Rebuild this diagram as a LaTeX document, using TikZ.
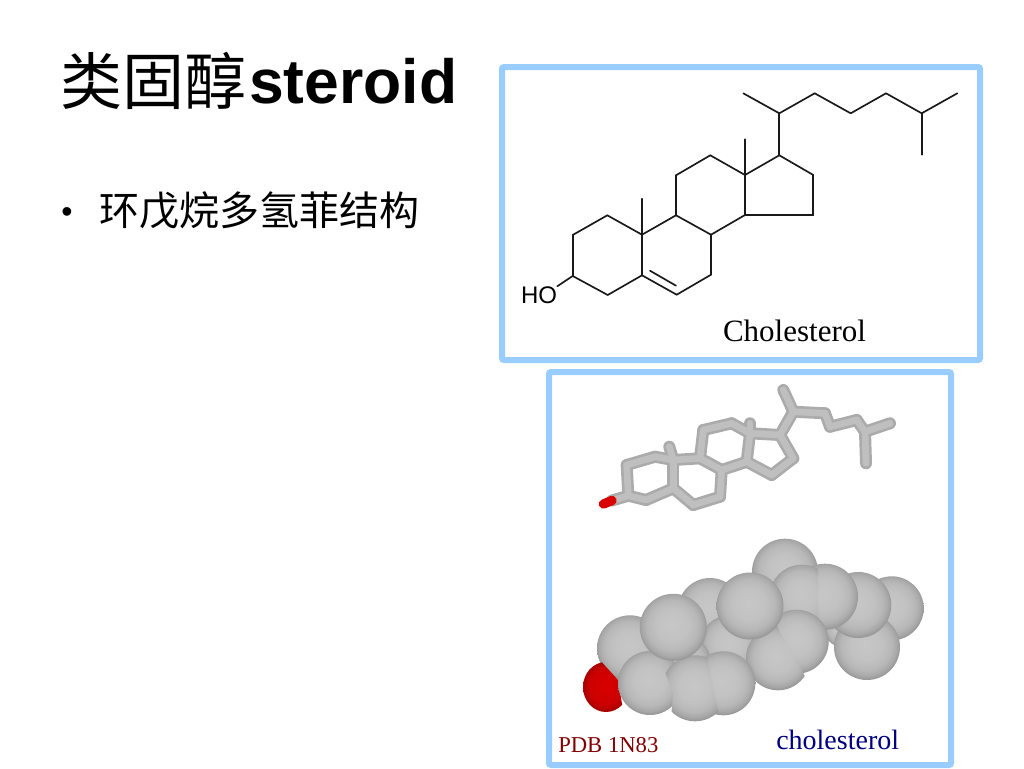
\documentclass[tikz,border=0pt]{standalone}
\usepackage{fontspec}
\setmainfont{Liberation Serif}
\setsansfont{Liberation Sans}
\newfontfamily\cjk{Noto Sans CJK SC}
\usetikzlibrary{positioning}
\definecolor{framecol}{HTML}{99CCFF}
\definecolor{darkred}{HTML}{800000}
\definecolor{darknavy}{HTML}{000080}
\pgfdeclareradialshading{atomgrey}{\pgfpoint{-1bp}{2bp}}{
  rgb(0bp)=(.78,.78,.78); rgb(12bp)=(.76,.76,.76); rgb(19bp)=(.72,.72,.72);
  rgb(23bp)=(.66,.66,.66); rgb(26bp)=(.58,.58,.58); rgb(50bp)=(.58,.58,.58)}
\pgfdeclareradialshading{atomred}{\pgfpoint{-1bp}{1bp}}{
  rgb(0bp)=(.85,0,0); rgb(18bp)=(.80,0,0); rgb(26bp)=(.62,0,0); rgb(50bp)=(.62,0,0)}
\tikzset{
  panel/.style={draw=framecol, line width=4.5pt, rounded corners=1.5pt},
  bond/.style={line width=1.25pt, black!90, line cap=round},
  stickout/.style={line width=9pt, color=black!33, line cap=round, line join=round},
  stickin/.style={line width=5pt, color=black!25, line cap=round, line join=round},
  atomball/.style={shading=atomgrey}
}
\begin{document}
\begin{tikzpicture}[x=0.75pt, y=-0.75pt]
  \useasboundingbox (0, 0) rectangle (1024, 768);
  \node[font=\cjk\fontsize{46.5}{50}\selectfont, anchor=west, inner sep=0] (titlecjk) at (60, 81) {类固醇};
  \node[font=\sffamily\bfseries\fontsize{46.8}{50}\selectfont, anchor=west, inner sep=0] (titlelat) at (249, 81) {steroid};
  \node[font=\sffamily\fontsize{24}{28}\selectfont, inner sep=0] (dot) at (67, 215) {•};
  \node[font=\cjk\fontsize{30}{34}\selectfont, anchor=west, inner sep=0] (bullet) at (99, 210) {环戊烷多氢菲结构};

  \draw[panel] (502, 67) rectangle (980, 360);
  \draw[panel] (549, 372) rectangle (951, 765);

  % skeletal formula
  \foreach \name/\px/\py in {c1/607.3/215.3, c2/572.7/235, c3/572.7/276, c4/607.7/295,
      c5/642/275.3, c6/676.7/294.7, c7/711/274.7, c8/711/234.7, c9/676/215.3,
      c10/642/234.7, c11/676/175.3, c12/710.3/155.3, c13/745/175, c14/745/215,
      c15/813.3/215, c16/813.3/175, c17/779.3/155.3, c18/745/139.3, c19/642/198.7,
      c20/779.3/113.3, c21/743.3/93.3, c22/814.7/93.3, c23/850.7/113.3, c24/886/93.3,
      c25/921.7/113.3, c26/957.3/93.3, c27/921.7/154.7, d5/650/270.7, d6/676/285.7}
    \coordinate (\name) at (\px, \py);
  \node[font=\sffamily\fontsize{18}{20}\selectfont, inner sep=0] (ho) at (539, 295) {HO};
  \foreach \a/\b in {c1/c2, c2/c3, c3/c4, c4/c5, c5/c10, c10/c1, c5/c6, c6/c7, c7/c8, c8/c9,
      c9/c10, c9/c11, c11/c12, c12/c13, c13/c14, c14/c8, c14/c15, c15/c16, c16/c17, c17/c13,
      c13/c18, c10/c19, c17/c20, c20/c21, c20/c22, c22/c23, c23/c24, c24/c25, c25/c26, c25/c27,
      d5/d6}
    \draw[bond] (\a) -- (\b);
  \draw[bond] (c3) -- (ho.north east);
  \node[font=\fontsize{23.25}{26}\selectfont, inner sep=0] (cholname) at (794.5, 331) {Cholesterol};

  % stick model
  \foreach \name/\px/\py in {s1/655/456.7, s2/626.7/465, s3/628.3/495.7, s4/646/500,
      s5/673.3/488.3, s6/693.3/505, s7/720/496.7, s8/721.7/470, s9/700/458.3,
      s10/673.3/460, s11/703.3/430, s12/731.7/423.3, s13/750/433.3, s14/746.7/461.7,
      s15/771.7/475, s16/793.3/458.3, s17/780/435, s18/750/423.3, s19/669.3/446.7,
      s20/793.3/411.7, s21/783.3/390, s22/825/413.3, s23/830/426.7, s24/856.7/420,
      s25/865/431.7, s26/890/423.3, s27/866/463.3, oh/603.5/504, oh2/612/500.5}
    \coordinate (\name) at (\px, \py);
  \foreach \stickstyle in {stickout, stickin}
    \foreach \a/\b in {s3/oh2, s19/s10, s1/s2, s2/s3, s3/s4, s4/s5, s5/s6, s6/s7, s7/s8, s8/s9,
        s9/s10, s10/s1, s10/s5, s9/s11, s11/s12, s12/s13, s13/s14, s14/s8, s14/s15, s15/s16,
        s16/s17, s17/s13, s13/s18, s17/s20, s20/s21, s20/s22, s22/s23, s23/s24, s24/s25,
        s25/s26, s25/s27}
      \draw[\stickstyle] (\a) -- (\b);
  \draw[line width=7pt, red!85!black, line cap=round] (oh) -- (oh2);

  % space filling model
  \foreach \bx/\by/\br in {785/571.7/33, 891.7/608.3/32, 843/627/20, 867/647/33,
      858.3/605/33, 825/596.7/33}
    \shade[atomball] (\bx, \by) circle (\br);
  \begin{scope}
    \clip (760, 550) rectangle (818, 640);
    \shade[atomball] (801.7, 596.7) circle (32);
  \end{scope}
  \shade[atomball] (796.7, 641.7) circle (32);
  \shade[atomball] (710, 610) circle (32);
  \shade[atomball] (730, 645) circle (30);
  \begin{scope}
    \clip (770, 610) -- (780, 632) -- (803, 672) -- (815, 700) -- (700, 700) -- (700, 610) -- cycle;
    \shade[atomball] (778, 658.3) circle (32);
  \end{scope}
  \shade[atomball] (683, 663) circle (28);
  \shade[atomball] (723.3, 683.3) circle (32);
  \shade[atomball] (750, 606) circle (33.5);
  \shade[atomball] (630, 648.3) circle (33);
  \begin{scope}
    \clip (598, 658) -- (618, 680) -- (624, 716) -- (570, 720) -- (570, 650) -- cycle;
    \shade[shading=atomred] (606, 687) ellipse (23 and 25);
  \end{scope}
  \shade[atomball] (650, 683) circle (32);
  \begin{scope}
    \clip (660, 658) -- (673, 693) -- (670, 730) -- (722, 730) -- (708, 663) -- (704, 640) -- cycle;
    \shade[atomball] (695, 688.3) circle (33);
  \end{scope}
  \shade[atomball] (673.3, 627.3) circle (33.5);

  \node[font=\fontsize{17}{20}\selectfont, text=darkred, anchor=west, inner sep=0] (pdb) at (558, 745) {PDB 1N83};
  \node[font=\fontsize{21}{24}\selectfont, text=darknavy, anchor=west, inner sep=0] (cholname2) at (776, 740) {cholesterol};
\end{tikzpicture}
\end{document}
